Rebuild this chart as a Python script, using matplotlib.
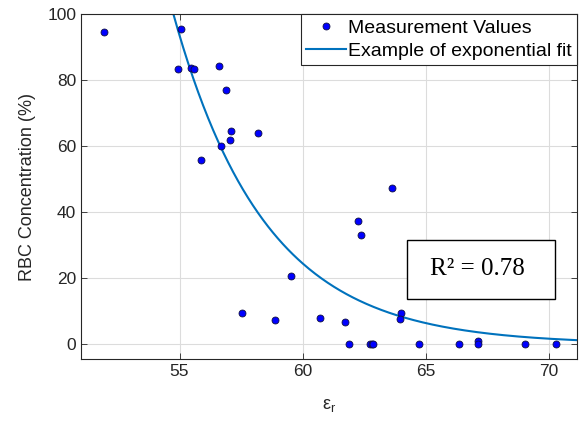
import numpy as np
import matplotlib
matplotlib.use("Agg")
from matplotlib import pyplot as plt
from matplotlib.patches import Rectangle

# measured points (eps_r, RBC %)
eps_r = [51.95, 55.07, 54.93, 55.46, 55.57, 56.62, 56.9, 57.11, 57.07, 58.17,
         56.68, 55.89, 63.65, 62.25, 62.38, 59.52, 57.54, 58.9, 60.72, 61.73,
         63.98, 63.96, 61.9, 62.75, 62.82, 62.87, 64.73, 66.34, 67.11, 67.11,
         69.05, 70.3]
rbc = [94.5, 95.5, 83.3, 83.7, 83.4, 84.3, 77.0, 64.5, 62.0, 63.9,
       60.2, 55.8, 47.4, 37.3, 33.2, 20.6, 9.4, 7.4, 8.0, 6.7,
       9.4, 7.7, 0.0, 0.0, 0.2, 0.0, 0.0, 0.0, 1.0, 0.2,
       0.0, 0.0]

# exponential fit y = a*exp(b*(x-x0))
fit_a = 24.5
fit_b = -0.268
fit_x0 = 60.0

xt = [55, 60, 65, 70]
yt = [0, 20, 40, 60, 80, 100]

plt.rcParams['font.family'] = ['Liberation Sans', 'DejaVu Sans']
fig = plt.figure(figsize=(5.79, 4.28), dpi=100)
ax = fig.add_axes([0.140, 0.161, 0.8565, 0.806])

xs = np.linspace(51, 71.2, 400)
ys = fit_a*np.exp(fit_b*(xs-fit_x0))
ax.plot(eps_r, rbc, 'o', color='#0000ff', mec='#101040', mew=0.6, ms=5,
        label='Measurement Values', zorder=3)
ax.plot(xs, ys, '-', color='#0072BD', lw=1.5, label='Example of exponential fit', zorder=2)

ax.set_xlim(51, 71.15)
ax.set_ylim(-4.5, 100)
ax.set_xticks(xt)
ax.set_yticks(yt)
ax.grid(True, color='#dcdcdc', lw=0.8)
ax.set_axisbelow(True)
ax.tick_params(direction='in', top=True, right=True, labelsize=12.5,
               colors='#262626', length=4, width=0.6)
for s in ax.spines.values():
    s.set_color('#262626')
    s.set_linewidth(0.8)

ax.set_ylabel('RBC Concentration (%)', fontsize=13, color='#262626', labelpad=8)
ax.set_xlabel(r'$\mathregular{\epsilon_r}$', fontsize=13, color='#262626', labelpad=13)

leg = ax.legend(loc='upper right', bbox_to_anchor=(1.0, 1.0), borderaxespad=0,
                fancybox=False, framealpha=1, edgecolor='#262626', fontsize=14,
                handlelength=2.1, handletextpad=0.1, borderpad=0.25, labelspacing=0.3)
leg.get_frame().set_linewidth(0.8)

# R^2 annotation box
ax.add_patch(Rectangle((0.657, 0.174), 0.299, 0.171, transform=ax.transAxes,
                       fc='white', ec='black', lw=1, zorder=4))
ax.text(0.80, 0.262, 'R² = 0.78', transform=ax.transAxes, ha='center', va='center',
        fontsize=18, family='Liberation Serif', zorder=5)

fig.savefig('out.png', dpi=100)
